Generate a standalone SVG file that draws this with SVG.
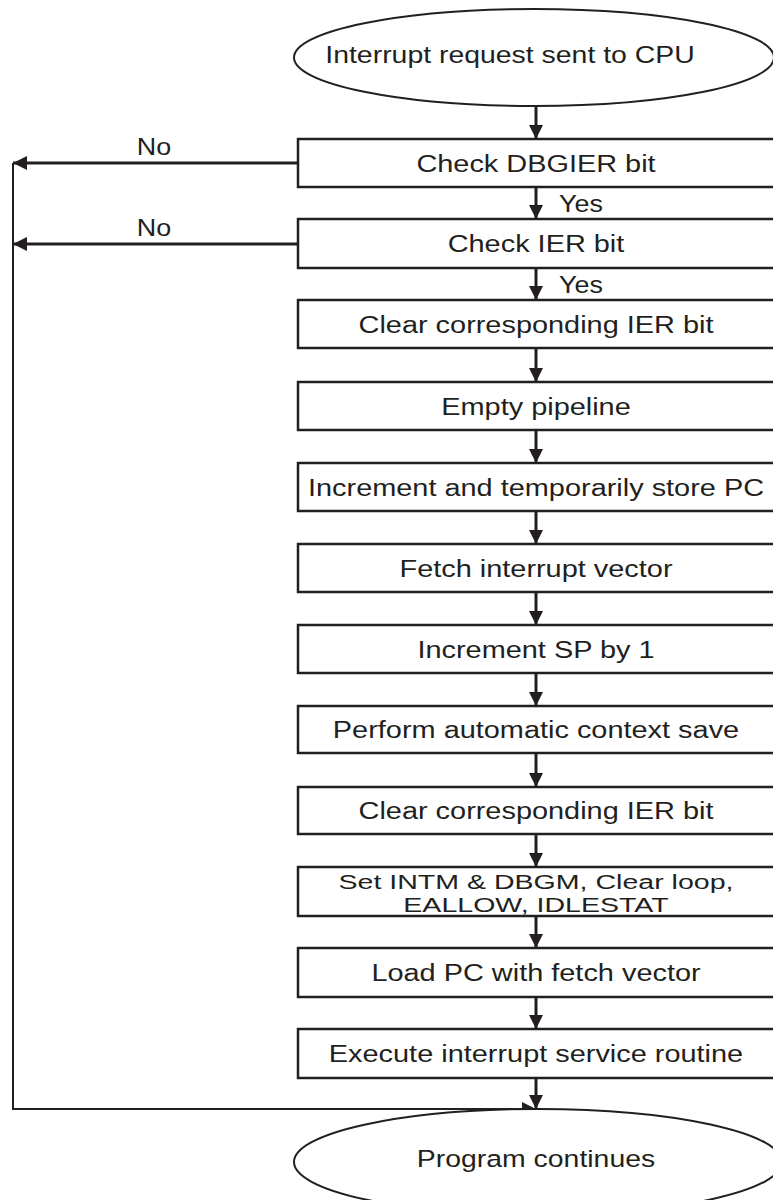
<svg xmlns="http://www.w3.org/2000/svg" width="773" height="1200" viewBox="0 0 773 1200">
<style>
.box{fill:#fff;stroke:#231f20;stroke-width:2.5}
.term{fill:#fff;stroke:#231f20;stroke-width:2}
.t{font-family:"Liberation Sans",Arial,sans-serif;font-size:24.5px;fill:#231f20;text-anchor:middle}
.t2{font-family:"Liberation Sans",Arial,sans-serif;font-size:21px;fill:#231f20;text-anchor:middle}
.l{font-family:"Liberation Sans",Arial,sans-serif;font-size:23px;fill:#231f20;text-anchor:middle}
.c{fill:none;stroke:#231f20;stroke-width:3}
.c2{fill:none;stroke:#231f20;stroke-width:2}
</style>
<defs>
<marker id="ah" markerUnits="userSpaceOnUse" markerWidth="14" markerHeight="14" viewBox="0 0 14 14" refX="14" refY="7" orient="auto">
<path d="M0,0 L14,7 L0,14 Z" fill="#231f20"/>
</marker>
</defs>
<rect width="773" height="1200" fill="#fff"/>
<g id="connectors">
<line class="c" x1="536" y1="106" x2="536" y2="139" marker-end="url(#ah)"/>
<line class="c" x1="536" y1="187" x2="536" y2="219" marker-end="url(#ah)"/>
<line class="c" x1="536" y1="268" x2="536" y2="300" marker-end="url(#ah)"/>
<line class="c" x1="536" y1="348" x2="536" y2="382" marker-end="url(#ah)"/>
<line class="c" x1="536" y1="430" x2="536" y2="463" marker-end="url(#ah)"/>
<line class="c" x1="536" y1="511" x2="536" y2="544" marker-end="url(#ah)"/>
<line class="c" x1="536" y1="592" x2="536" y2="625" marker-end="url(#ah)"/>
<line class="c" x1="536" y1="673" x2="536" y2="706" marker-end="url(#ah)"/>
<line class="c" x1="536" y1="753" x2="536" y2="787" marker-end="url(#ah)"/>
<line class="c" x1="536" y1="834" x2="536" y2="867" marker-end="url(#ah)"/>
<line class="c" x1="536" y1="916" x2="536" y2="948" marker-end="url(#ah)"/>
<line class="c" x1="536" y1="997" x2="536" y2="1029" marker-end="url(#ah)"/>
<line class="c" x1="536" y1="1078" x2="536" y2="1109" marker-end="url(#ah)"/>
<line class="c" x1="297" y1="163" x2="13" y2="163" marker-end="url(#ah)"/>
<line class="c" x1="297" y1="244" x2="13" y2="244" marker-end="url(#ah)"/>
<polyline class="c2" points="13,163 13,1109 536,1109" marker-end="url(#ah)"/>
<text class="l" transform="translate(154,155) scale(1.17,1)">No</text>
<text class="l" transform="translate(154,236) scale(1.17,1)">No</text>
<text class="l" transform="translate(581,212) scale(1.17,1)">Yes</text>
<text class="l" transform="translate(581,293) scale(1.17,1)">Yes</text>
</g>
<g id="start">
<ellipse class="term" cx="534" cy="57.5" rx="240" ry="48.5"/>
<text class="t" transform="translate(510,63) scale(1.16,1)">Interrupt request sent to CPU</text>
</g>
<g id="n1"><rect class="box" x="298" y="139" width="490" height="48"/><text class="t" transform="translate(536,172) scale(1.18,1)">Check DBGIER bit</text></g>
<g id="n2"><rect class="box" x="298" y="219" width="490" height="49"/><text class="t" transform="translate(536,252) scale(1.18,1)">Check IER bit</text></g>
<g id="n3"><rect class="box" x="298" y="300" width="490" height="48"/><text class="t" transform="translate(536,333) scale(1.18,1)">Clear corresponding IER bit</text></g>
<g id="n4"><rect class="box" x="298" y="382" width="490" height="48"/><text class="t" transform="translate(536,415) scale(1.18,1)">Empty pipeline</text></g>
<g id="n5"><rect class="box" x="298" y="463" width="490" height="48"/><text class="t" transform="translate(536,496) scale(1.18,1)">Increment and temporarily store PC</text></g>
<g id="n6"><rect class="box" x="298" y="544" width="490" height="48"/><text class="t" transform="translate(536,577) scale(1.18,1)">Fetch interrupt vector</text></g>
<g id="n7"><rect class="box" x="298" y="625" width="490" height="48"/><text class="t" transform="translate(536,658) scale(1.18,1)">Increment SP by 1</text></g>
<g id="n8"><rect class="box" x="298" y="706" width="490" height="47"/><text class="t" transform="translate(536,738) scale(1.18,1)">Perform automatic context save</text></g>
<g id="n9"><rect class="box" x="298" y="787" width="490" height="47"/><text class="t" transform="translate(536,819) scale(1.18,1)">Clear corresponding IER bit</text></g>
<g id="n10"><rect class="box" x="298" y="867" width="490" height="49"/>
<text class="t2" transform="translate(536,888.5) scale(1.36,1)">Set INTM &amp; DBGM, Clear loop,</text>
<text class="t2" transform="translate(536,912) scale(1.36,1)">EALLOW, IDLESTAT</text></g>
<g id="n11"><rect class="box" x="298" y="948" width="490" height="49"/><text class="t" transform="translate(536,981) scale(1.18,1)">Load PC with fetch vector</text></g>
<g id="n12"><rect class="box" x="298" y="1029" width="490" height="49"/><text class="t" transform="translate(536,1062) scale(1.18,1)">Execute interrupt service routine</text></g>
<g id="end">
<ellipse class="term" cx="538" cy="1162" rx="244" ry="53"/>
<text class="t" transform="translate(536,1167) scale(1.16,1)">Program continues</text>
</g>
</svg>
